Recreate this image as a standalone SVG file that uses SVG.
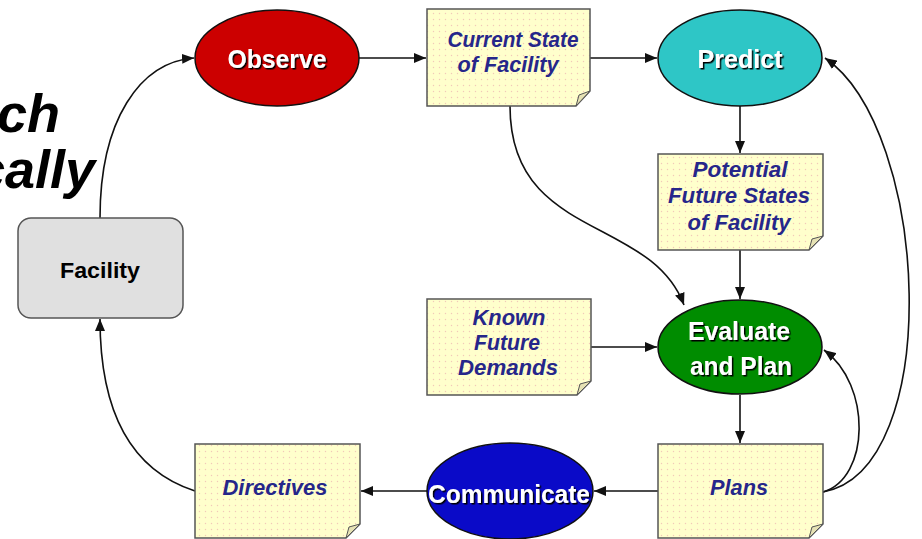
<svg xmlns="http://www.w3.org/2000/svg" width="922" height="539" viewBox="0 0 922 539">
<style>
.big{font-family:"Liberation Sans",Arial,sans-serif;font-weight:bold;font-style:italic;font-size:54px;fill:#000}
.note{fill:url(#dots);stroke:#555;stroke-width:1.5}
.fold{fill:#e6e2b4;stroke:#555;stroke-width:1}
.nt{font-family:"Liberation Sans",Arial,sans-serif;font-weight:bold;font-style:italic;font-size:22px;fill:#26268a;text-anchor:middle}
.et{font-family:"Liberation Sans",Arial,sans-serif;font-weight:bold;font-size:25px;fill:#fff;text-anchor:middle;filter:url(#sh)}
.ell{stroke:#111;stroke-width:1.5}
.con{fill:none;stroke:#111;stroke-width:1.6;marker-end:url(#arr)}
</style>
<defs>
<pattern id="dots" width="6" height="6" patternUnits="userSpaceOnUse">
<rect width="6" height="6" fill="#ffffcc"/>
<circle cx="1.5" cy="1.5" r="0.7" fill="#f2c9b8"/>
</pattern>
<filter id="sh" x="-10%" y="-20%" width="130%" height="150%">
<feDropShadow dx="1.5" dy="1.5" stdDeviation="0.3" flood-color="#000" flood-opacity="1"/>
</filter>
<marker id="arr" viewBox="0 0 12 10" refX="12" refY="5" markerWidth="12" markerHeight="10" markerUnits="userSpaceOnUse" orient="auto">
<path d="M0,0 L12,5 L0,10 Z" fill="#111"/>
</marker>
</defs>
<rect width="922" height="539" fill="#fff"/>

<text class="big" x="60" y="132" text-anchor="end">ich</text>
<text class="big" x="95" y="188" text-anchor="end">cally</text>

<g id="connectors">
<path class="con" d="M100,218 C100,120 140,62 194,58"/>
<path class="con" d="M359,58 L426,58"/>
<path class="con" d="M590,58 L657,58"/>
<path class="con" d="M740,106 L740,153"/>
<path class="con" d="M740,250 L740,299"/>
<path class="con" d="M510,106 C510,240 650,215 684,305"/>
<path class="con" d="M591,347 L657,347"/>
<path class="con" d="M740,395 L740,443"/>
<path class="con" d="M658,491 L594,491"/>
<path class="con" d="M427,491 L361,491"/>
<path class="con" d="M195,491 C130,470 100,410 100,319"/>
<path class="con" d="M823,492 C870,478 872,385 824,350"/>
<path class="con" d="M823,492 C945,470 930,130 825,58"/>
</g>

<g id="facility">
<rect x="18" y="218" width="165" height="100" rx="13" fill="#e0e0e0" stroke="#555" stroke-width="1.5"/>
<text x="100" y="278" font-family="'Liberation Sans',Arial,sans-serif" font-weight="bold" font-size="22" fill="#000" text-anchor="middle" textLength="80" lengthAdjust="spacingAndGlyphs">Facility</text>
</g>

<g id="observe">
<ellipse class="ell" cx="277" cy="58" rx="82" ry="48" fill="#cc0000"/>
<text class="et" x="277" y="68" textLength="99" lengthAdjust="spacingAndGlyphs">Observe</text>
</g>

<g id="current-state">
<path class="note" d="M427,9 H590 V91 L576,106 H427 Z"/>
<path class="fold" d="M576,106 L579,95 L590,91 Z"/>
<text class="nt" x="513" y="47" textLength="131" lengthAdjust="spacingAndGlyphs">Current State</text>
<text class="nt" x="508" y="72" textLength="101" lengthAdjust="spacingAndGlyphs">of Facility</text>
</g>

<g id="predict">
<ellipse class="ell" cx="740" cy="58" rx="82" ry="48" fill="#2ec6c6"/>
<text class="et" x="740" y="68" textLength="85" lengthAdjust="spacingAndGlyphs">Predict</text>
</g>

<g id="potential">
<path class="note" d="M658,154 H823 V236 L809,250 H658 Z"/>
<path class="fold" d="M809,250 L812,239 L823,236 Z"/>
<text class="nt" x="740" y="177" textLength="95" lengthAdjust="spacingAndGlyphs">Potential</text>
<text class="nt" x="739" y="203" textLength="142" lengthAdjust="spacingAndGlyphs">Future States</text>
<text class="nt" x="739" y="230" textLength="103" lengthAdjust="spacingAndGlyphs">of Facility</text>
</g>

<g id="known">
<path class="note" d="M427,299 H591 V381 L577,395 H427 Z"/>
<path class="fold" d="M577,395 L580,384 L591,381 Z"/>
<text class="nt" x="509" y="325" textLength="73" lengthAdjust="spacingAndGlyphs">Known</text>
<text class="nt" x="507" y="350" textLength="66" lengthAdjust="spacingAndGlyphs">Future</text>
<text class="nt" x="508" y="375" textLength="100" lengthAdjust="spacingAndGlyphs">Demands</text>
</g>

<g id="evaluate">
<ellipse class="ell" cx="740" cy="347" rx="82" ry="47" fill="#008c00"/>
<text class="et" x="739" y="340" textLength="102" lengthAdjust="spacingAndGlyphs">Evaluate</text>
<text class="et" x="741" y="375" textLength="102" lengthAdjust="spacingAndGlyphs">and Plan</text>
</g>

<g id="plans">
<path class="note" d="M658,444 H823 V524 L809,538 H658 Z"/>
<path class="fold" d="M809,538 L812,527 L823,524 Z"/>
<text class="nt" x="739" y="495" textLength="58" lengthAdjust="spacingAndGlyphs">Plans</text>
</g>

<g id="communicate">
<ellipse class="ell" cx="510" cy="491" rx="83" ry="48" fill="#0a0ac8"/>
<text class="et" x="509" y="503" textLength="162" lengthAdjust="spacingAndGlyphs">Communicate</text>
</g>

<g id="directives">
<path class="note" d="M195,444 H360 V524 L346,538 H195 Z"/>
<path class="fold" d="M346,538 L349,527 L360,524 Z"/>
<text class="nt" x="275" y="495" textLength="105" lengthAdjust="spacingAndGlyphs">Directives</text>
</g>
</svg>
